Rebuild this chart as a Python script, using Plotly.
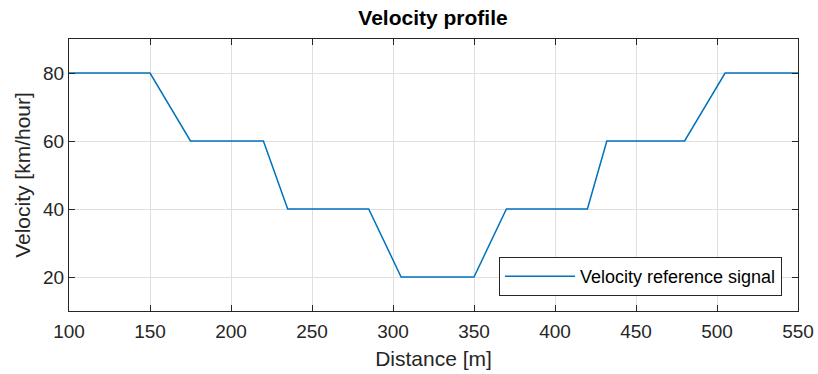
import plotly.graph_objects as go

distance = [100, 150, 175, 220, 235, 285, 305, 350, 370, 420, 432, 480, 505, 550]
velocity = [80, 80, 60, 60, 40, 40, 20, 20, 40, 40, 60, 60, 80, 80]
x_ticks = [100, 150, 200, 250, 300, 350, 400, 450, 500, 550]
y_ticks = [20, 40, 60, 80]

L, R, T, B = 69, 798, 39, 311
W, H = 818, 374

fig = go.Figure()
fig.add_trace(go.Scatter(x=distance, y=velocity, mode="lines",
                         name="Velocity reference signal",
                         line=dict(color="#0072BD", width=1.5)))

axis_common = dict(showline=True, linecolor="#262626", linewidth=1, mirror="allticks",
                   ticks="inside", ticklen=6, tickcolor="#262626",
                   showgrid=True, gridcolor="#DFDFDF", gridwidth=1, zeroline=False,
                   tickfont=dict(size=19, color="#262626"), automargin=False)

fig.update_layout(
    width=W, height=374,
    margin=dict(l=L, r=W - R, t=T, b=H - B, autoexpand=False),
    paper_bgcolor="white", plot_bgcolor="white",
    font=dict(family="Liberation Sans, Arial, sans-serif", color="#262626"),
    title=dict(text="<b>Velocity profile</b>", x=433 / W, xanchor="center",
               y=1 - 18 / H, yanchor="middle", font=dict(size=21, color="#000000")),
    xaxis=dict(range=[100, 550], tickvals=x_ticks, ticklabelstandoff=3,
               title=dict(text="Distance [m]", font=dict(size=21), standoff=10), **axis_common),
    yaxis=dict(range=[10, 90], tickvals=y_ticks,
               title=dict(text="Velocity [km/hour]", font=dict(size=21), standoff=6), **axis_common),
    legend=dict(x=(782 - L) / (R - L), xanchor="right", y=(B - 296) / (B - T), yanchor="bottom",
                bordercolor="#262626", borderwidth=1, bgcolor="white", itemwidth=70,
                font=dict(size=18, color="#000000"), tracegroupgap=0),
    showlegend=True,
)

fig.write_html("out.html")
